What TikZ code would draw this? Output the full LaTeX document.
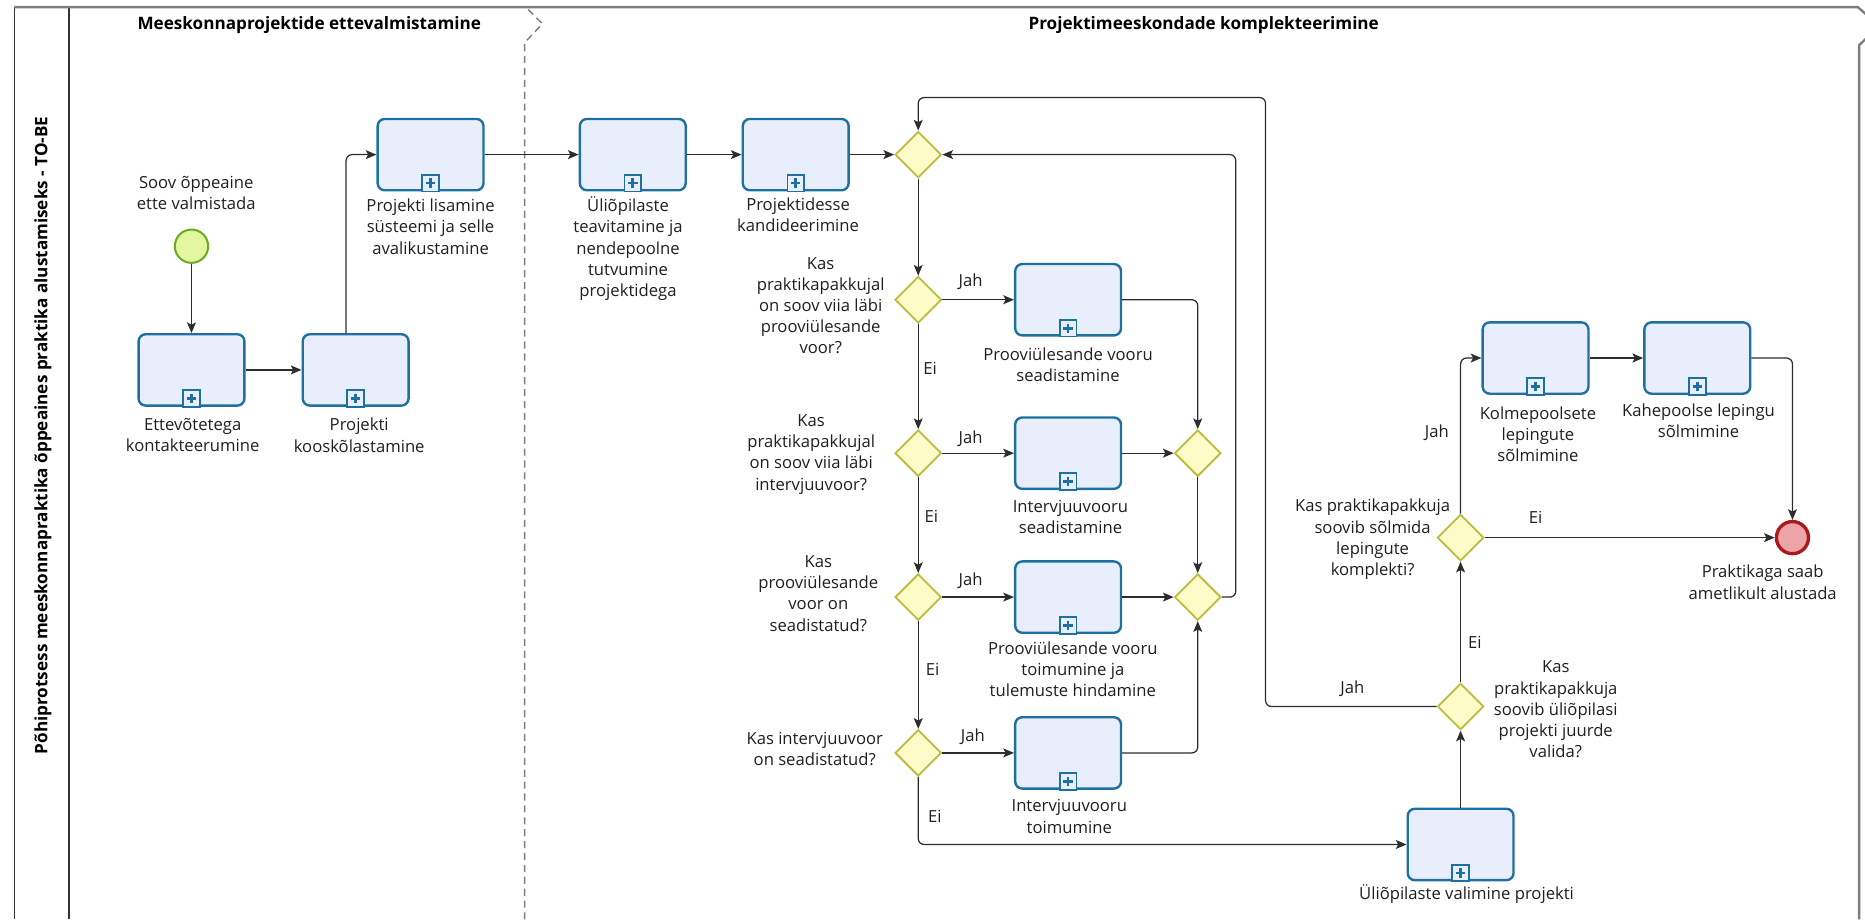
\documentclass[tikz,border=0pt]{standalone}
\usepackage{fontspec}
\setmainfont{Open Sans}
\usetikzlibrary{shapes.geometric,arrows.meta,calc}

\definecolor{taskfill}{RGB}{233,238,252}
\definecolor{taskline}{RGB}{30,112,160}
\definecolor{gwfill}{RGB}{253,252,200}
\definecolor{gwline}{RGB}{188,188,60}
\definecolor{startfill}{RGB}{228,246,160}
\definecolor{startline}{RGB}{104,172,36}
\definecolor{endfill}{RGB}{236,164,166}
\definecolor{endline}{RGB}{172,24,28}
\definecolor{flowline}{RGB}{45,45,45}
\definecolor{poolline}{RGB}{125,125,125}

\begin{document}
\begin{tikzpicture}[x=1pt,y=-1pt,
  txt/.style={font=\fontsize{14}{17.8}\selectfont, align=center, inner sep=0pt, text=black!88},
  phasetitle/.style={font=\fontsize{14.4}{17}\selectfont\bfseries, inner sep=0pt},
  task/.style={rectangle, rounded corners=6pt, draw=taskline, fill=taskfill, line width=2pt,
    minimum width=89pt, minimum height=60pt, inner sep=0pt},
  gw/.style={diamond, aspect=1, draw=gwline, fill=gwfill, line width=1.5pt,
    minimum width=39pt, minimum height=39pt, inner sep=0pt},
  startev/.style={circle, draw=startline, fill=startfill, line width=1.7pt, minimum size=28pt, inner sep=0pt},
  endev/.style={circle, draw=endline, fill=endfill, line width=2.8pt, minimum size=27pt, inner sep=0pt},
  flow/.style={draw=flowline, line width=1.05pt, rounded corners=5pt,
    -{Stealth[length=9pt,width=7.5pt,inset=2pt]}},
  subbox/.style={draw=taskline, line width=1.5pt, fill=taskfill},
  subplus/.style={draw=taskline, line width=2.2pt},
  lane/.style={draw=black!80, line width=1.2pt},
  poolborder/.style={draw=poolline, line width=2pt},
  phasesep/.style={draw=poolline, line width=1.2pt, dash pattern=on 6pt off 4pt},
]
\useasboundingbox (0,0) rectangle (1568,773);
\clip (0,0) rectangle (1568,773);

% pool frame, lane header and phase separator
\draw[lane] (12,6) -- (12,773);
\draw[lane] (58,6) -- (58,773);
\draw[poolborder] (12,6) -- (1562,6) -- (1580,22) -- (1563,38) -- (1563,773);
\draw[phasesep] (444,8) -- (456,20) -- (441,36) -- (441,773);

\node[phasetitle, rotate=90] (lanetitle) at (36,366)
  {Põhiprotsess meeskonnapraktika õppeaines praktika alustamiseks - TO-BE};
\node[phasetitle] (phase1) at (260,21) {Meeskonnaprojektide ettevalmistamine};
\node[phasetitle] (phase2) at (1012,21) {Projektimeeskondade komplekteerimine};

% events
\node[startev] (start) at (161,207) {};
\node[endev] (finish) at (1507,452) {};

% tasks
\node[task] (tEtt)  at (161,311) {};
\node[task] (tKoos) at (299,311) {};
\node[task] (tLis)  at (362,130) {};
\node[task] (tUli)  at (532,130) {};
\node[task] (tKand) at (669,130) {};
\node[task] (tP1)   at (898,252) {};
\node[task] (tI1)   at (898,381) {};
\node[task] (tP2)   at (898,502) {};
\node[task] (tI2)   at (898,633) {};
\node[task] (tVal)  at (1228,710) {};
\node[task] (tKolm) at (1291,301) {};
\node[task] (tKahe) at (1427,301) {};

% collapsed sub-process markers
\foreach \t in {tEtt,tKoos,tLis,tUli,tKand,tP1,tI1,tP2,tI2,tVal,tKolm,tKahe}{
  \draw[subbox] ($(\t.south)+(-7,0)$) rectangle ($(\t.south)+(7,-14)$);
  \draw[subplus] ($(\t.south)+(0,-3)$) -- ($(\t.south)+(0,-11)$);
  \draw[subplus] ($(\t.south)+(-4,-7)$) -- ($(\t.south)+(4,-7)$);
}

% gateways
\node[gw] (g0)  at (772,130) {};
\node[gw] (g1)  at (772,252) {};
\node[gw] (g2)  at (772,381) {};
\node[gw] (g3)  at (772,502) {};
\node[gw] (g4)  at (772,633) {};
\node[gw] (gm1) at (1007,381) {};
\node[gw] (gm2) at (1007,502) {};
\node[gw] (g5)  at (1228,594) {};
\node[gw] (g6)  at (1228,452) {};

% texts of events, tasks and gateways
\node[txt] (lStart) at (165,162) {Soov õppeaine\\ette valmistada};
\node[txt] (lFinish) at (1482,489.5) {Praktikaga saab\\ametlikult alustada};
\node[txt] (lEtt)  at (162,366) {Ettevõtetega\\kontakteerumine};
\node[txt] (lKoos) at (302,366) {Projekti\\kooskõlastamine};
\node[txt] (lLis)  at (362,190.5) {Projekti lisamine\\süsteemi ja selle\\avalikustamine};
\node[txt] (lUli)  at (528,209) {Üliõpilaste\\teavitamine ja\\nendepoolne\\tutvumine\\projektidega};
\node[txt] (lKand) at (671,180.5) {Projektidesse\\kandideerimine};
\node[txt] (lP1)   at (898,307) {Prooviülesande vooru\\seadistamine};
\node[txt] (lI1)   at (900,434.5) {Intervjuuvooru\\seadistamine};
\node[txt] (lP2)   at (902,562.5) {Prooviülesande vooru\\toimumine ja\\tulemuste hindamine};
\node[txt] (lI2)   at (899,686.5) {Intervjuuvooru\\toimumine};
\node[txt] (lVal)  at (1233,752) {Üliõpilaste valimine projekti};
\node[txt] (lKolm) at (1293,365) {Kolmepoolsete\\lepingute\\sõlmimine};
\node[txt] (lKahe) at (1428,353.5) {Kahepoolse lepingu\\sõlmimine};
\node[txt] (lg1) at (690,257) {Kas\\praktikapakkujal\\on soov viia läbi\\prooviülesande\\voor?};
\node[txt] (lg2) at (682,382) {Kas\\praktikapakkujal\\on soov viia läbi\\intervjuuvoor?};
\node[txt] (lg3) at (688,499) {Kas\\prooviülesande\\voor on\\seadistatud?};
\node[txt] (lg4) at (685,629.5) {Kas intervjuuvoor\\on seadistatud?};
\node[txt] (lg5) at (1308,596.5) {Kas\\praktikapakkuja\\soovib üliõpilasi\\projekti juurde\\valida?};
\node[txt] (lg6) at (1154,453.5) {Kas praktikapakkuja\\soovib sõlmida\\lepingute\\komplekti?};

% branch labels
\node[txt] (y1) at (816,237) {Jah};
\node[txt] (n1) at (782,310) {Ei};
\node[txt] (y2) at (816,369) {Jah};
\node[txt] (n2) at (783,434.5) {Ei};
\node[txt] (y3) at (816,488) {Jah};
\node[txt] (n3) at (784,563) {Ei};
\node[txt] (y4) at (818,619.5) {Jah};
\node[txt] (n4) at (786,686) {Ei};
\node[txt] (y5) at (1137,579) {Jah};
\node[txt] (n5) at (1240,540) {Ei};
\node[txt] (y6) at (1208,364) {Jah};
\node[txt] (n6) at (1291,435) {Ei};

% bend points of the two loops back to the first gateway
\coordinate (back1) at (1039,130);
\coordinate (back2) at (1064,82);

% sequence flows
\draw[flow] (start) -- (tEtt);
\draw[flow] (tEtt) -- (tKoos);
\draw[flow] ($(tKoos.north)+(-8,0)$) |- (tLis.west);
\draw[flow] (tLis) -- (tUli);
\draw[flow] (tUli) -- (tKand);
\draw[flow] (tKand) -- (g0);
\draw[flow] (g0) -- (g1);
\draw[flow] (g1) -- (tP1);
\draw[flow] (tP1.east) -| (gm1.north);
\draw[flow] (g1) -- (g2);
\draw[flow] (g2) -- (tI1);
\draw[flow] (tI1) -- (gm1);
\draw[flow] (gm1) -- (gm2);
\draw[flow] (g2) -- (g3);
\draw[flow] (g3) -- (tP2);
\draw[flow] (tP2) -- (gm2);
\draw[flow] (g3) -- (g4);
\draw[flow] (g4) -- (tI2);
\draw[flow] (tI2.east) -| (gm2.south);
\draw[flow] (gm2.east) -| (back1) -- (g0.east);
\draw[flow] (g4.south) |- (tVal.west);
\draw[flow] (tVal) -- (g5);
\draw[flow] (g5.west) -| (back2) -| (g0.north);
\draw[flow] (g5) -- (g6);
\draw[flow] (g6.north) |- (tKolm.west);
\draw[flow] (g6) -- (finish);
\draw[flow] (tKolm) -- (tKahe);
\draw[flow] (tKahe.east) -| (finish.north);
\end{tikzpicture}
\end{document}
